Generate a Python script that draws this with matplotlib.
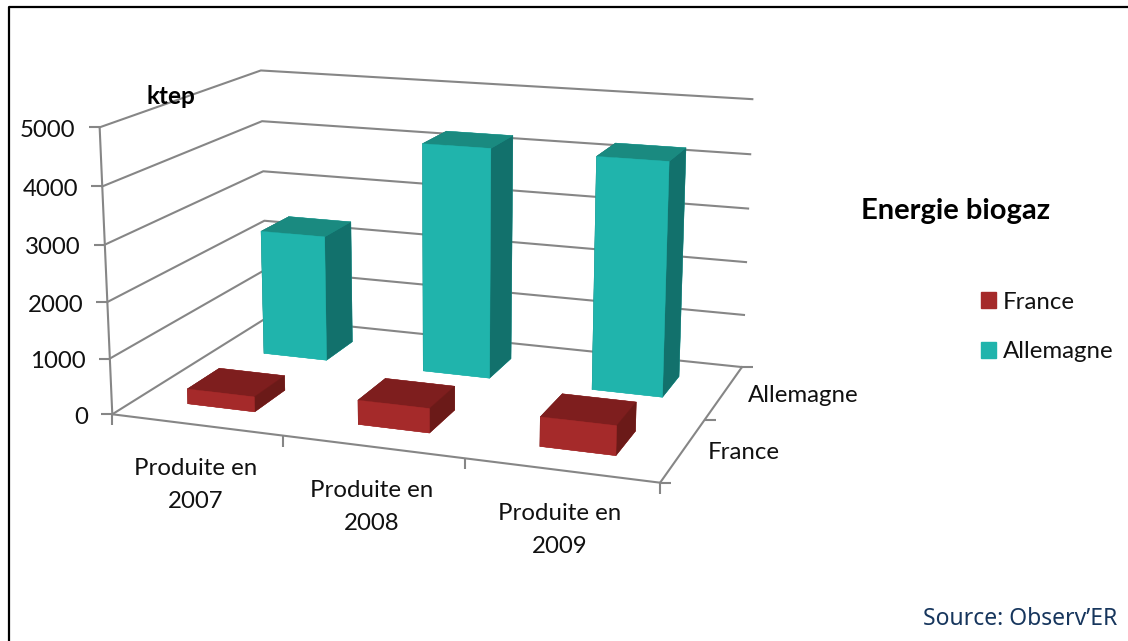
import matplotlib
matplotlib.use("Agg")
import matplotlib.pyplot as plt
from matplotlib.lines import Line2D
from matplotlib.patches import Patch
from matplotlib.transforms import ScaledTranslation

plt.rcParams['font.family'] = ['Lato', 'DejaVu Sans']

categories = ['Produite en\n2007', 'Produite en\n2008', 'Produite en\n2009']
series = ['France', 'Allemagne']
france = [270, 430, 510]
allemagne = [2370, 4240, 4230]
value_ticks = [0, 1000, 2000, 3000, 4000, 5000]

W, H = 1128, 641
grid_col = '#868686'
teal = {'front': '#20B4AC', 'top': '#1A8A80', 'side': '#12716C'}
red = {'front': '#A52A2A', 'top': '#7E1E1E', 'side': '#6B1A18'}

fig = plt.figure(figsize=(W / 100, H / 100), dpi=100)
# view found by fitting the walls of the chart
ax = fig.add_axes([109.2 / W, 58.1 / H, H / W, 1], projection='3d', computed_zorder=False)
ax.view_init(elev=14.356, azim=-70.016, roll=0.06)
ax.set_proj_type('persp', focal_length=0.572)
ax.set_box_aspect((4, 2.619, 2.079), zoom=1.086)
ax.set_xlim(0, 3, view_margin=0)
ax.set_ylim(0, 2, view_margin=0)
ax.set_zlim(0, 5000, view_margin=0)
ax.set_xticks([])
ax.set_yticks([])
ax.set_zticks([])
ax.set_axis_off()

line_kw = dict(color=grid_col, lw=1.5, clip_on=False, zorder=1)

# gridlines on the two walls
for v in value_ticks:
    ax.plot([0, 0, 3], [0, 2, 2], [v, v, v], **line_kw)
# axes
ax.plot([0, 0], [0, 0], [0, 5000], **line_kw)
ax.plot([0, 3], [0, 0], [0, 0], **line_kw)
ax.plot([3, 3], [0, 2], [0, 0], **line_kw)
# ticks
ax.plot([0] * len(value_ticks), [0] * len(value_ticks), value_ticks, ls='', marker=0, ms=8, mew=1.5,
        color=grid_col, clip_on=False, zorder=1)
ax.plot(range(4), [0] * 4, [0] * 4, ls='', marker=3, ms=8, mew=1.5, color=grid_col, clip_on=False, zorder=1)
ax.plot([3] * 3, range(3), [0] * 3, ls='', marker=1, ms=8, mew=1.5, color=grid_col, clip_on=False, zorder=1)


def bar(i, j, val, c, z):
    # face order of bar3d: bottom, top, front, back, left, right
    faces = [c['front'], c['top'], c['front'], c['front'], c['side'], c['side']]
    b = ax.bar3d(i + 0.3, j + 0.3, 0, 0.4, 0.4, val, color=faces, shade=False, zorder=z,
                 edgecolor=faces, linewidth=0.3)
    b.set_clip_on(False)


for i, val in enumerate(allemagne):
    bar(i, 1, val, teal, 3 + i)
for i, val in enumerate(france):
    bar(i, 0, val, red, 10 + i)


def label(x, y, z, s, dx, dy, **kw):
    t = ax.text(x, y, z, s, fontsize=17.3, color='#111111', **kw)
    t.set_transform(t.get_transform() + ScaledTranslation(dx / 100, dy / 100, fig.dpi_scale_trans))


for v in value_ticks:
    label(0, 0, v, str(v), -24, -3, ha='right', va='center')
for i, c in enumerate(categories):
    label(i + 0.5, 0, 0, c, -1, -60, ha='center', va='center', linespacing=1.72)
for j, s in enumerate(series):
    label(3, j + 0.5, 0, s, 24, -3, ha='left', va='center')

fig.text(170.5 / W, 1 - 96 / H, 'ktep', fontsize=17.5, fontweight='bold', ha='center', va='center', color='black')
fig.text(955.5 / W, 1 - 211 / H, 'Energie biogaz', fontsize=21, fontweight='bold', ha='center', va='center',
         color='black')
fig.text(1117 / W, 1 - 619 / H, 'Source: Observ’ER', fontsize=16.5, ha='right', va='center', color='#17365D',
         family=['Noto Sans', 'DejaVu Sans'])

handles = [Patch(color=red['front']), Patch(color=teal['front'])]
fig.legend(handles, series, loc='center left', bbox_to_anchor=(981 / W, 1 - 327 / H), frameon=False,
           fontsize=17.3, handlelength=0.62, handleheight=0.62, handletextpad=0.3, labelspacing=1.2,
           borderpad=0, borderaxespad=0, labelcolor='#111111')

# frame of the picture, only top and left are visible
fig.add_artist(Line2D([9 / W, 9 / W, 1], [0, 1 - 6.5 / H, 1 - 6.5 / H], color='black', lw=1.6))

fig.savefig('out.png', dpi=100)
